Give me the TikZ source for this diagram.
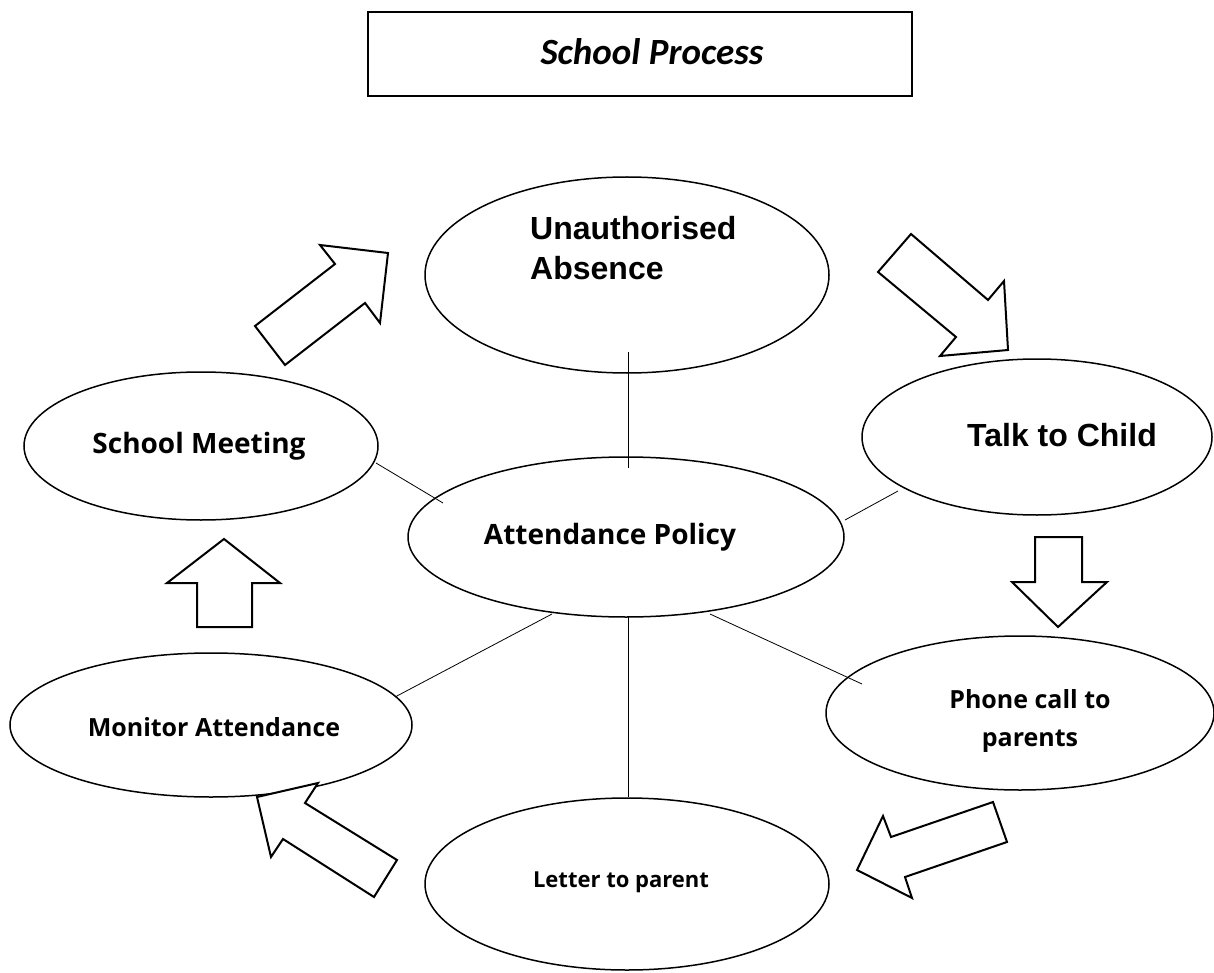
\documentclass[tikz,border=0pt]{standalone}
\usepackage{fontspec}
\setmainfont{Open Sans}
\newfontfamily\arialf{Liberation Sans}
\newfontfamily\calf{Carlito}
\usetikzlibrary{shapes.geometric}
\begin{document}
\begin{tikzpicture}[x=1pt,y=-1pt,
  ell/.style={draw,line width=1.5pt,ellipse,inner sep=0pt},
  conn/.style={draw,line width=0.8pt},
  blockarrow/.style={draw,line width=2pt,fill=white,line join=miter},
  lbl/.style={align=center}]
\useasboundingbox (0,0) rectangle (1214,973);
% title
\node[draw,line width=1.3pt,minimum width=544pt,minimum height=84pt,inner sep=0pt] (title) at (640,54) {};
\node[font=\calf\fontsize{37}{40}\selectfont\bfseries\itshape] (titletext) at (652,52) {School Process};
% ellipses
\node[ell,minimum width=404pt,minimum height=196pt] (ua) at (627,275) {};
\node[ell,minimum width=350pt,minimum height=156pt] (tc) at (1037,437) {};
\node[ell,minimum width=354pt,minimum height=148pt] (sm) at (201,446) {};
\node[ell,minimum width=436pt,minimum height=160pt] (ap) at (626,537) {};
\node[ell,minimum width=388pt,minimum height=154pt] (pc) at (1020,713) {};
\node[ell,minimum width=402pt,minimum height=144pt] (ma) at (211,725) {};
\node[ell,minimum width=404pt,minimum height=172pt] (lp) at (627,884) {};
% labels
\node[font=\arialf\bfseries\fontsize{32}{40}\selectfont,align=left,anchor=west,inner sep=0pt] (uat) at (530,248) {Unauthorised\\Absence};
\node[font=\arialf\bfseries\fontsize{32}{36}\selectfont] (tct) at (1062,435) {Talk to Child};
\node[lbl,font=\bfseries\fontsize{28}{32}\selectfont] (smt) at (199,446) {School Meeting};
\node[lbl,font=\bfseries\fontsize{28}{32}\selectfont] (apt) at (610,537) {Attendance Policy};
\node[lbl,font=\bfseries\fontsize{25}{38}\selectfont] (pct) at (1030,721) {Phone call to\\parents};
\node[lbl,font=\bfseries\fontsize{25}{30}\selectfont] (mat) at (214,727) {Monitor Attendance};
\node[lbl,font=\bfseries\fontsize{22}{26}\selectfont] (lpt) at (621,882) {Letter to parent};
% connectors
\coordinate (c1a) at (628,352); \coordinate (c1b) at (628,468);
\coordinate (c2a) at (376,463); \coordinate (c2b) at (443,503);
\coordinate (c3a) at (898,491); \coordinate (c3b) at (845,520);
\coordinate (c4a) at (552,614); \coordinate (c4b) at (395,697);
\coordinate (c5a) at (628,617); \coordinate (c5b) at (628,797);
\coordinate (c6a) at (710,614); \coordinate (c6b) at (862,684);
\draw[conn] (c1a) -- (c1b);
\draw[conn] (c2a) -- (c2b);
\draw[conn] (c3a) -- (c3b);
\draw[conn] (c4a) -- (c4b);
\draw[conn] (c5a) -- (c5b);
\draw[conn] (c6a) -- (c6b);
% block arrows
\draw[blockarrow] (255,326) -- (285,365) -- (365,303) -- (380,323) -- (388,253) -- (320,245) -- (335,264) -- cycle;
\draw[blockarrow] (878,272) -- (911,234) -- (988,300) -- (1004,281) -- (1008,350) -- (940,356) -- (956,337) -- cycle;
\draw[blockarrow] (1035,537) -- (1082,537) -- (1082,582) -- (1107,582) -- (1058,627) -- (1012,582) -- (1035,582) -- cycle;
\draw[blockarrow] (993,802) -- (1007,842) -- (905,877) -- (912,898) -- (857,870) -- (883,816) -- (891,837) -- cycle;
\draw[blockarrow] (397,860) -- (374,897) -- (283,839) -- (271,857) -- (257,797) -- (318,783) -- (305,803) -- cycle;
\draw[blockarrow] (224,539) -- (280,583) -- (252,583) -- (252,627) -- (197,627) -- (197,583) -- (167,583) -- cycle;
\end{tikzpicture}
\end{document}
